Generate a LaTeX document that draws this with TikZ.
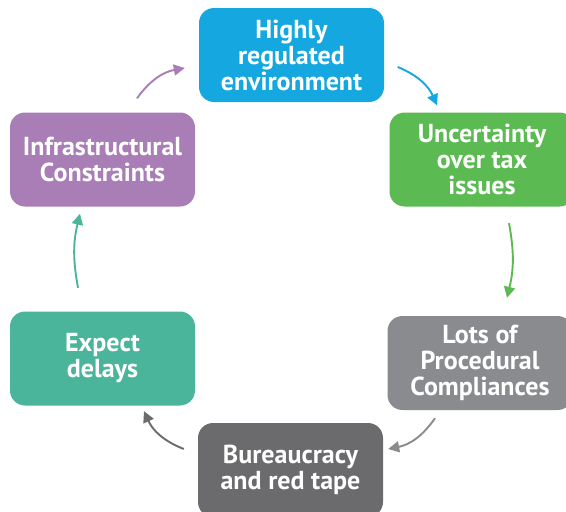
\documentclass[tikz,border=0pt]{standalone}
\usepackage{fontspec}
\setmainfont{PT Sans}
\usetikzlibrary{arrows.meta,calc}
\definecolor{cblue}{HTML}{15A8E0}
\definecolor{cgreen}{HTML}{5BBA51}
\definecolor{cgray}{HTML}{898B8E}
\definecolor{cdark}{HTML}{6B6B6D}
\definecolor{cteal}{HTML}{4BB59B}
\definecolor{cpurple}{HTML}{A97DB5}
\begin{document}
\begin{tikzpicture}[x=1pt,y=-1pt,
  box/.style={rounded corners=15pt, minimum width=185pt, minimum height=94pt,
    inner sep=0pt, text=white, align=center,
    font=\fontsize{26}{26}\selectfont\bfseries},
  arr/.style={line width=1.9pt, -{Triangle[length=11pt,width=11pt]}}]
\clip (0,0) rectangle (566,512);
\fill[white] (0,0) rectangle (566,512);
\node[box, fill=cblue]   (n1) at (291.5,55)   {Highly\\regulated\\environment};
\node[box, fill=cgreen]  (n2) at (482,159.5)  {Uncertainty\\over tax\\issues};
\node[box, fill=cgray]   (n3) at (480,363)    {Lots of\\Procedural\\Compliances};
\node[box, fill=cdark]   (n4) at (290.5,470)  {Bureaucracy\\and red tape};
\node[box, fill=cteal]   (n5) at (102.5,358.5){Expect\\delays};
\node[box, fill=cpurple] (n6) at (102.5,159.5){Infrastructural\\Constraints};
\draw[arr, cblue]   ($(n1.east)+(13.5,12)$)  to[bend left=22] ($(n2.north)+(-45,-7)$);
\draw[arr, cgreen]  ($(n2.south)+(27,16.5)$) to[bend left=12] ($(n3.north)+(27,-18)$);
\draw[arr, cgray]   ($(n3.south)+(-45,8)$)   to[bend left=22] ($(n4.east)+(5,-21)$);
\draw[arr, cdark]   ($(n4.west)+(-14,-21)$)  to[bend left=22] ($(n5.south)+(41.5,5.5)$);
\draw[arr, cteal]   ($(n5.north)+(-24.5,-23.5)$) to[bend left=12] ($(n6.south)+(-22.5,7)$);
\draw[arr, cpurple] ($(n6.north)+(34.5,-14)$) to[bend left=22] ($(n1.west)+(-14,13)$);
\end{tikzpicture}
\end{document}
